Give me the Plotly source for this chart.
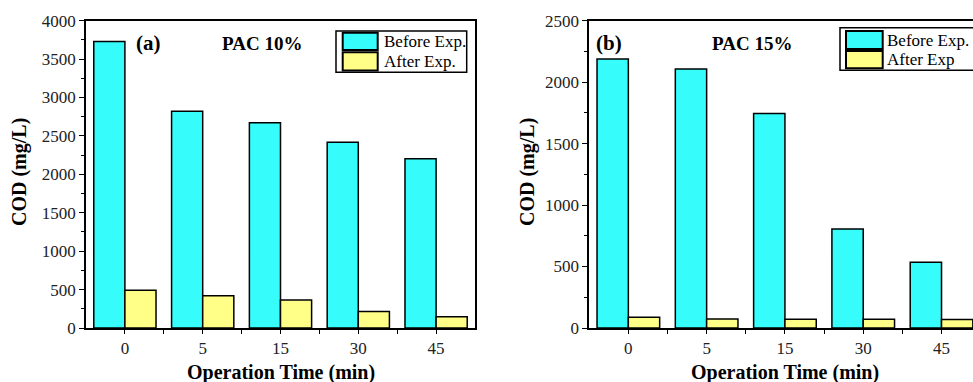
import plotly.graph_objects as go

categories = ["0", "5", "15", "30", "45"]
before_a = [3730, 2820, 2672, 2417, 2203]
after_a = [493, 419, 363, 216, 146]
before_b = [2188, 2107, 1745, 806, 535]
after_b = [87, 73, 71, 71, 70]

W, H = 973, 382
CYAN = "#36FCFC"
YELLOW = "#FFFF88"
FONT = "Liberation Serif"

xpos = list(range(len(categories)))

fig = go.Figure()
line = dict(color="black", width=1.5)
fig.add_trace(go.Bar(x=xpos, y=before_a, marker=dict(color=CYAN, line=line), name="Before Exp.", xaxis="x", yaxis="y", showlegend=False))
fig.add_trace(go.Bar(x=xpos, y=after_a, marker=dict(color=YELLOW, line=line), name="After Exp.", xaxis="x", yaxis="y", showlegend=False))
fig.add_trace(go.Bar(x=xpos, y=before_b, marker=dict(color=CYAN, line=line), name="Before Exp.", xaxis="x2", yaxis="y2", showlegend=False))
fig.add_trace(go.Bar(x=xpos, y=after_b, marker=dict(color=YELLOW, line=line), name="After Exp", xaxis="x2", yaxis="y2", showlegend=False))

ybot = 1 - 328 / H
ytop = 1 - 20.7 / H

def xaxis(domain, rng, mirror, anchor):
    return dict(domain=domain, range=rng, anchor=anchor, tickvals=xpos, ticktext=categories,
                automargin=False,
                showline=True, linecolor="black", linewidth=1.5, mirror=mirror,
                ticks="outside", ticklen=4, tickwidth=1.2, tickcolor="black",
                minor=dict(tickvals=[0.5, 1.5, 2.5, 3.5], ticks="outside", ticklen=4, tickwidth=1.2, tickcolor="black"),
                showgrid=False, zeroline=False,
                tickfont=dict(family=FONT, size=17, color="#222"))

def yaxis(rng, dtick, mirror, anchor):
    return dict(domain=[ybot, ytop], range=rng, anchor=anchor, dtick=dtick,
                automargin=False,
                showline=True, linecolor="black", linewidth=1.5, mirror=mirror,
                ticks="outside", ticklen=5, tickwidth=1.2, tickcolor="black",
                minor=dict(dtick=dtick / 2, ticks="outside", ticklen=3, tickwidth=1, tickcolor="black"),
                showgrid=False, zeroline=False,
                tickfont=dict(family=FONT, size=17, color="#222"))

fig.update_layout(
    template="none",
    width=W, height=H, margin=dict(l=0, r=0, t=0, b=0, pad=0, autoexpand=False),
    paper_bgcolor="white", plot_bgcolor="white",
    barmode="group", bargap=0.2, bargroupgap=0,
    xaxis=xaxis([86 / W, 475 / W], [-0.5, 4.5], True, "y"),
    yaxis=yaxis([0, 4000], 500, True, "x"),
    xaxis2=xaxis([589.2 / W, 1.0], [-0.5, 4.402], True, "y2"),
    yaxis2=yaxis([0, 2500], 500, False, "x2"),
    font=dict(family=FONT, color="black"),
)

def px(x):
    return x / W

def py(y):
    return 1 - y / H

ann = []
def text(x, y, s, size, bold=False, xanchor="center", angle=0):
    ann.append(dict(x=px(x), y=py(y), xref="paper", yref="paper", text=f"<b>{s}</b>" if bold else s,
                    showarrow=False, xanchor=xanchor, yanchor="middle", textangle=angle,
                    font=dict(family=FONT, size=size, color="black")))

# panel titles
text(148.5, 43, "(a)", 21, True)
text(261.5, 43, "PAC 10%", 19, True)
text(609, 43, "(b)", 21, True)
text(751.5, 43, "PAC 15%", 19, True)
# axis titles
text(280.5, 372, "Operation Time (min)", 20, True)
text(785, 372, "Operation Time (min)", 20, True)
text(20, 172, "COD (mg/L)", 20, True, angle=-90)
text(528, 172, "COD (mg/L)", 20, True, angle=-90)

shapes = []
def rect(x0, y0, x1, y1, fill, width=1.5):
    shapes.append(dict(type="rect", xref="paper", yref="paper", x0=px(x0), x1=px(x1), y0=py(y1), y1=py(y0),
                       fillcolor=fill, line=dict(color="black", width=width)))

# legend (a)
rect(336, 31, 466.7, 72.3, "white", 1.5)
rect(342.7, 32.8, 377.7, 50, CYAN, 2)
rect(342.7, 52.3, 377.7, 70.5, YELLOW, 2)
text(381.5, 41.5, "Before Exp.", 17, xanchor="left")
text(381.5, 61.5, "After Exp.", 17, xanchor="left")
# legend (b)
rect(840, 27.7, 990, 70.3, "white", 1.5)
rect(846, 31, 882.7, 49, CYAN, 2)
rect(846, 51, 882.7, 68.3, YELLOW, 2)
text(885, 40, "Before Exp.", 17, xanchor="left")
text(885, 59.5, "After Exp", 17, xanchor="left")

fig.update_layout(annotations=ann, shapes=shapes)
fig.write_html("out.html", config={"displayModeBar": False},
               post_script="document.body.style.margin='0';document.body.style.overflow='hidden';")
